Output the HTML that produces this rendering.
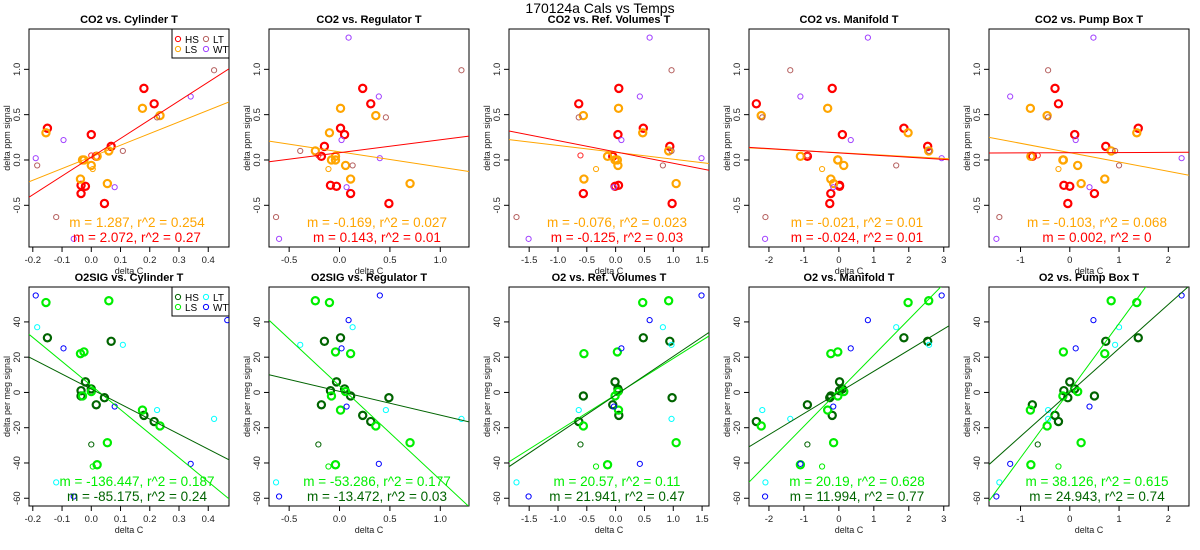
<!DOCTYPE html>
<html><head><meta charset="utf-8"><style>
body{margin:0;background:#fff;}
svg{display:block;font-family:"Liberation Sans",sans-serif;}
</style></head><body>
<svg id="chart" width="1200" height="550" viewBox="0 0 1200 550" xmlns="http://www.w3.org/2000/svg">
<text x="600" y="13" text-anchor="middle" font-size="14">170124a   Cals vs Temps</text>
</svg>
<script>
const groups = ['HS','HS','HS','HS','HS','HS','HS','HS','HS','HS','LS','LS','LS','LS','LS','LS','LS','LS','LS','LS','LT','LT','LT','LT','LT','HSt','LSt','WT','WT','WT','WT','WT','WT'];
const co2Values = [0.79,0.62,0.35,0.28,0.15,0.04,-0.28,-0.29,-0.37,-0.48, 0.57,0.49,0.30,0.10,0.04,0.0,0.0,-0.06,-0.21,-0.26, 0.99,0.47,0.10,-0.06,-0.63,0.05,-0.10, 1.35,0.70,0.22,0.02,-0.30,-0.87];
const o2Values = [-13,-16.5,31,2,29,-7,1,6,-2,-3, -10,-19,51,52,-41,-2,23,0.5,22,-28.5, -15,-10,27,37,-51,-29.5,-42, 41,-40.5,25,55,-8,-59];
const xCyl = [0.18,0.215,-0.15,0.0,0.068,0.017,-0.035,-0.02,-0.035,0.045, 0.175,0.235,-0.155,0.06,0.02,-0.03,-0.025,0.0,-0.037,0.055, 0.42,0.225,0.108,-0.185,-0.12,0.0,0.005, 0.465,0.34,-0.095,-0.19,0.08,-0.06];
const xReg = [0.23,0.31,0.01,0.05,-0.15,-0.18,-0.09,-0.03,0.11,0.49, 0.01,0.36,-0.10,-0.24,-0.04,-0.08,-0.04,0.06,0.11,0.70, 1.21,0.46,-0.39,0.13,-0.63,-0.21,-0.11, 0.09,0.39,0.02,0.40,0.07,-0.60];
const xRef = [0.055,-0.64,0.48,0.04,0.94,-0.05,0.05,-0.01,-0.56,0.98, 0.05,-0.56,0.47,0.92,-0.14,-0.01,0.03,0.04,-0.55,1.05, 0.97,-0.64,0.97,0.82,-1.72,-0.61,-0.34, 0.59,0.42,0.10,1.49,-0.03,-1.51];
const xMan = [-0.19,-2.36,1.86,0.10,2.54,-0.90,0.02,0.02,-0.23,-0.26, -0.32,-2.22,1.98,2.57,-1.10,-0.03,-0.03,0.14,-0.23,-0.15, -1.39,-2.19,2.58,1.64,-2.10,-0.9,-0.48, 0.83,-1.10,0.34,2.94,-0.16,-2.11];
const xPump = [-0.30,-0.23,1.39,0.10,0.73,-0.76,-0.12,0.0,0.50,-0.04, -0.80,-0.46,1.36,0.84,-0.79,-0.14,-0.13,0.16,0.71,0.23, -0.44,-0.44,0.92,1.0,-1.43,-0.65,-0.23, 0.48,-1.21,0.12,2.27,0.40,-1.49];
const panelNames = ['Cylinder T','Regulator T','Ref. Volumes T','Manifold T','Pump Box T'];
const bottomPrefix = ['O2SIG','O2SIG','O2','O2','O2'];
const xLims = [[-0.213,0.471],[-0.70,1.285],[-1.85,1.62],[-2.57,3.15],[-1.64,2.42]];
const xTicks = [[-0.2,-0.1,0.0,0.1,0.2,0.3,0.4],[-0.5,0.0,0.5,1.0],[-1.5,-1.0,-0.5,0.0,0.5,1.0,1.5],[-2,-1,0,1,2,3],[-1,0,1,2]];
const xTickLabels = [['-0.2','-0.1','0.0','0.1','0.2','0.3','0.4'],['-0.5','0.0','0.5','1.0'],['-1.5','-1.0','-0.5','0.0','0.5','1.0','1.5'],['-2','-1','0','1','2','3'],['-1','0','1','2']];
const topYLim = [-0.96,1.445];
const topYTicks = [-0.5,0.0,0.5,1.0];
const topYTickLabels = ['-0.5','0.0','0.5','1.0'];
const botYLim = [-64.4,59.8];
const botYTicks = [-60,-40,-20,0,20,40];
const botYTickLabels = ['-60','-40','-20','0','20','40'];
// fits: LS (first label) and HS (second label)
const topLSSlope = [1.287,-0.169,-0.076,-0.021,-0.103];
const topLSInt = [0.034,0.09,0.084,0.08,0.081];
const topLSR2 = ['0.254','0.027','0.023','0.01','0.068'];
const topHSSlope = [2.072,0.143,-0.125,-0.024,0.002];
const topHSInt = [0.03,0.08,0.089,0.078,0.08];
const topHSR2 = ['0.27','0.01','0.03','0.01','0'];
const botLSSlope = [-136.447,-53.286,20.57,20.19,38.126];
const botLSInt = [3.9,3.7,-1.3,1,1];
const botLSR2 = ['0.187','0.177','0.11','0.628','0.615'];
const botHSSlope = [-85.175,-13.472,21.941,11.994,24.943];
const botHSInt = [1.9,0.6,-1.5,0,0];
const botHSR2 = ['0.24','0.03','0.47','0.77','0.74'];

const topColors = {HS:'#ff0000',LS:'#ffa500',LT:'#b5605f',WT:'#a040ff',HSt:'#ff3030',LSt:'#ffa500'};
const botColors = {HS:'#006400',LS:'#00ee00',LT:'#00ffff',WT:'#0000ff',HSt:'#006400',LSt:'#00ee00'};
const thick = {HS:true,LS:true,LT:false,WT:false,HSt:false,LSt:false};
const xsAll = [xCyl,xReg,xRef,xMan,xPump];
const svg = document.getElementById('chart');
const NS = 'http://www.w3.org/2000/svg';
function mk(tag, attrs, parent){const e=document.createElementNS(NS,tag);for(const k in attrs)e.setAttribute(k,attrs[k]);(parent||svg).appendChild(e);return e;}

function drawPanel(col,row){
  const ox = col*240, L = ox+29, R = ox+229;
  const T = row===0?29:287, B = row===0?247:506;
  const yl = row===0?topYLim:botYLim;
  const xl = xLims[col];
  const sx = v => L + (v-xl[0])/(xl[1]-xl[0])*(R-L);
  const sy = v => B - (v-yl[0])/(yl[1]-yl[0])*(B-T);
  const g = mk('g',{});
  
  
  const cid = 'clip'+row+col;
  const cp = mk('clipPath',{id:cid},g); mk('rect',{x:L,y:T,width:R-L,height:B-T},cp);
  const title = mk('text',{x:(L+R)/2,y:T-6,'text-anchor':'middle','font-size':11,'font-weight':'bold'},g);
  title.textContent = (row===0?'CO2':bottomPrefix[col])+' vs. '+panelNames[col];
  
  
  // x axis
  xTicks[col].forEach((t,i)=>{
    const x = sx(t);
    mk('line',{x1:x,x2:x,y1:B,y2:B+5,stroke:'#000','stroke-width':1},g);
    const tl = mk('text',{x:x,y:B+16,'text-anchor':'middle','font-size':9.5,fill:'#222'},g);
    tl.textContent = xTickLabels[col][i];
    
    
  });
  mk('line',{x1:sx(xTicks[col][0]),x2:sx(xTicks[col][xTicks[col].length-1]),y1:B,y2:B,stroke:'#000'},g);
  const xt = mk('text',{x:(L+R)/2,y:B+27,'text-anchor':'middle','font-size':9,fill:'#222'},g);
  xt.textContent='delta C';
  
  
  const yt = row===0?topYTicks:botYTicks, ytl = row===0?topYTickLabels:botYTickLabels;
  yt.forEach((t,i)=>{
    const y = sy(t);
    mk('line',{x1:L-5,x2:L,y1:y,y2:y,stroke:'#000'},g);
    const tl = mk('text',{x:0,y:0,'text-anchor':'middle','font-size':9.5,fill:'#222',transform:`translate(${L-9},${y}) rotate(-90)`},g);
    tl.textContent = ytl[i];
    
    
  });
  const ya = mk('text',{x:0,y:0,'text-anchor':'middle','font-size':9,fill:'#222',transform:`translate(${ox+10},${(T+B)/2}) rotate(-90)`},g);
  ya.textContent = row===0?'delta ppm signal':'delta per meg signal';
  
  
  mk('rect',{x:L,y:T,width:R-L,height:B-T,fill:'none',stroke:'#000','stroke-width':1},g);
  // points
  const colors = row===0?topColors:botColors;
  const ys = row===0?co2Values:o2Values;
  const xs = xsAll[col];
  const pg = mk('g',{'clip-path':`url(#${cid})`},g);
  xs.forEach((xv,i)=>{
    const gr = groups[i], th = thick[gr];
    const c = mk('circle',{cx:sx(xv),cy:sy(ys[i]),r:th?3.6:2.6,fill:'none',stroke:colors[gr],'stroke-width':th?2.2:1},pg);
    
    
  });
  // fit lines
  const fits = row===0?[[topLSSlope,topLSInt,'LS'],[topHSSlope,topHSInt,'HS']]:[[botLSSlope,botLSInt,'LS'],[botHSSlope,botHSInt,'HS']];
  fits.forEach(f=>{
    const m=f[0][col], b=f[1][col];
    const ln = mk('line',{x1:sx(xl[0]),y1:sy(b+m*xl[0]),x2:sx(xl[1]),y2:sy(b+m*xl[1]),stroke:colors[f[2]],'stroke-width':1},pg);
    
    
  });
  // fit labels
  const lbls = row===0?[[topLSSlope,topLSR2,'LS'],[topHSSlope,topHSR2,'HS']]:[[botLSSlope,botLSR2,'LS'],[botHSSlope,botHSR2,'HS']];
  lbls.forEach((f,k)=>{
    const t = mk('text',{x:(L+R)/2+8,y:B-(k===0?20:5),'text-anchor':'middle','font-size':13.5,fill:colors[f[2]]},g);
    t.textContent = 'm = '+f[0][col]+', r^2 = '+f[1][col];
    
    
  });
  if(col===0){
    const lg = mk('g',{},g);
    
    
    mk('rect',{x:172,y:T,width:57,height:29,fill:'#fff',stroke:'#000'},lg);
    [['HS',0,0],['LT',1,0],['LS',0,1],['WT',1,1]].forEach(e=>{
      const cx = 178+e[1]*28, cy = T+10+e[2]*10;
      const th = e[0]==='HS'||e[0]==='LS';
      mk('circle',{cx:cx,cy:cy,r:2.6,fill:'none',stroke:colors[e[0]],'stroke-width':1},lg);
      const t = mk('text',{x:cx+7,y:cy+4,'font-size':10},lg);
      t.textContent = e[0];
      
      
    });
  }
}
for(let r=0;r<2;r++)for(let c=0;c<5;c++)drawPanel(c,r);
</script>
</body></html>
